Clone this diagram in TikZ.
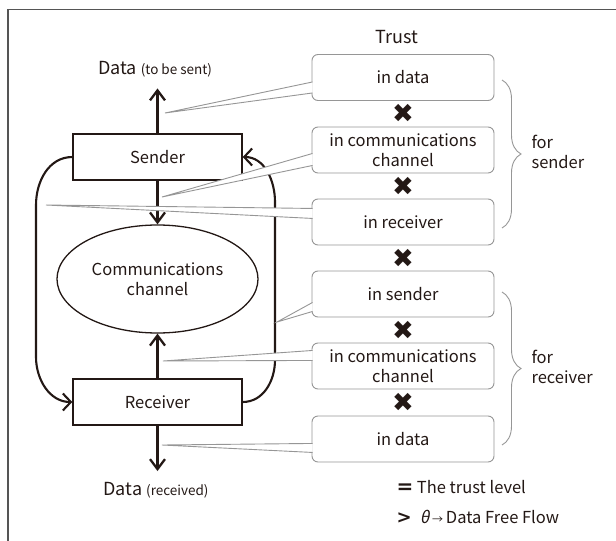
\documentclass[tikz,border=0pt]{standalone}
\usepackage{fontspec}
\setmainfont{Noto Sans CJK JP}
\newfontfamily\symfont{DejaVu Sans}
\newfontfamily\slantfont[FakeSlant=0.2]{Noto Sans CJK JP}
\usetikzlibrary{arrows.meta,calc,shapes.geometric,decorations.pathreplacing}
\definecolor{ink}{RGB}{35,24,21}
\definecolor{bubble}{RGB}{150,150,150}
\definecolor{framegray}{RGB}{85,85,85}
\newcommand{\txt}{\fontsize{16.5}{20}\selectfont}
\newcommand{\bigtxt}{\fontsize{18}{20}\selectfont}
\newcommand{\smalltxt}{\fontsize{13.5}{16}\selectfont}

\begin{document}
\begin{tikzpicture}[x=1pt,y=-1pt,
  every node/.style={text=ink},
  block/.style={draw=ink, line width=1.4pt, minimum width=169pt, minimum height=46pt, inner sep=0pt, font=\txt},
  chan/.style={ellipse, draw=ink, line width=1.3pt, minimum width=201pt, minimum height=108pt, inner sep=0pt, align=center, font=\txt},
  flow/.style={draw=ink, line width=2.3pt, -{Straight Barb[length=10pt,width=15pt]}},
  loopback/.style={draw=ink, line width=2.1pt, -{Straight Barb[length=8pt,width=17pt]}},
  trustbox/.style={draw=bubble, fill=white, line width=0.9pt, rounded corners=6pt, minimum width=182pt, minimum height=46pt, inner sep=0pt, align=center, font=\txt},
  pointer/.style={draw=bubble, line width=0.9pt, fill=white},
  times/.style={font=\symfont\fontsize{26}{26}\selectfont, inner sep=0pt},
  bracket/.style={draw=bubble, line width=0.9pt, decorate, decoration={brace, amplitude=19pt}}]
\useasboundingbox (0,0) rectangle (616,541);
\draw[framegray, line width=1.4pt] (8,541) -- (8,9.5) -- (616,9.5);
%
\node[block] (sender) at (157.5,157) {Sender};
\node[block] (receiver) at (157.5,402) {Receiver};
\node[chan] (chan) at (157.5,279) {Communications\\channel};
\node (dsent) at (155,69) {\bigtxt Data \smalltxt(to be sent)};
\node (drecv) at (156,490) {\bigtxt Data \smalltxt(received)};
%
\draw[flow, shorten >=8pt] (sender.north) -- (sender.north |- dsent.south);
\draw[flow] (sender.south) -- (chan.north);
\draw[flow] (receiver.north) -- (chan.south);
\draw[flow, shorten >=7.5pt] (receiver.south) -- (receiver.south |- drecv.north);
\draw[loopback] (sender.west) to[out=180,in=90] (36,205) -- (36,357) to[out=-90,in=180] (receiver.west);
\draw[loopback] (receiver.east) to[out=0,in=-90] (275,360) -- (275,202) to[out=90,in=0] (sender.east);
%
\node[font=\fontsize{18}{20}\selectfont] (trust) at (397,37) {Trust};
\node[trustbox] (b1) at (403,77.5) {in data};
\node[trustbox] (b2) at (403,150) {in communications\\channel};
\node[trustbox] (b3) at (403,222) {in receiver};
\node[trustbox] (b4) at (403,294) {in sender};
\node[trustbox] (b5) at (403,366) {in communications\\channel};
\node[trustbox] (b6) at (403,439) {in data};
%
\coordinate (t1) at (165,113);
\coordinate (t2) at (162,197);
\coordinate (t3) at (46,205);
\coordinate (t4) at (277,322);
\coordinate (t5) at (163,361);
\coordinate (t6) at (162,445);
\filldraw[pointer] ([xshift=1pt,yshift=19pt]b1.south west) -- (t1) -- ([xshift=1pt,yshift=8pt]b1.south west);
\filldraw[pointer] ([xshift=1pt,yshift=20pt]b2.south west) -- (t2) -- ([xshift=1pt,yshift=8pt]b2.south west);
\filldraw[pointer] ([xshift=1pt,yshift=37pt]b3.south west) -- (t3) -- ([xshift=1pt,yshift=27pt]b3.south west);
\filldraw[pointer] ([xshift=1pt,yshift=15pt]b4.south west) -- (t4) -- ([xshift=1pt,yshift=6pt]b4.south west);
\filldraw[pointer] ([xshift=1pt,yshift=39pt]b5.south west) -- (t5) -- ([xshift=1pt,yshift=29pt]b5.south west);
\filldraw[pointer] ([xshift=1pt,yshift=19pt]b6.south west) -- (t6) -- ([xshift=1pt,yshift=10pt]b6.south west);
%
\node[times] (x1) at ($(b1.south)!0.5!(b2.north)$) {✖};
\node[times] (x2) at ($(b2.south)!0.5!(b3.north)$) {✖};
\node[times] (x3) at ($(b3.south)!0.5!(b4.north)$) {✖};
\node[times] (x4) at ($(b4.south)!0.5!(b5.north)$) {✖};
\node[times] (x5) at ($(b5.south)!0.5!(b6.north)$) {✖};
%
\draw[bracket] (502,80) -- (502,228);
\draw[bracket] (502,292) -- (502,445);
\node[anchor=west, align=left, font=\txt] (forsnd) at (528,152) {for\\sender};
\node[anchor=west, align=left, font=\txt] (forrcv) at (528,367) {for\\receiver};
%
\node[anchor=west, font=\txt] (lvl) at (393,487) {{\symfont\bfseries\fontsize{20}{20}\selectfont =} The trust level};
\node[anchor=west, font=\txt] (dff) at (393,517) {{\symfont\bfseries\fontsize{18}{20}\selectfont >}\enspace{\slantfont θ}\,{\fontsize{11}{11}\selectfont →}\,Data Free Flow};
\end{tikzpicture}
\end{document}
